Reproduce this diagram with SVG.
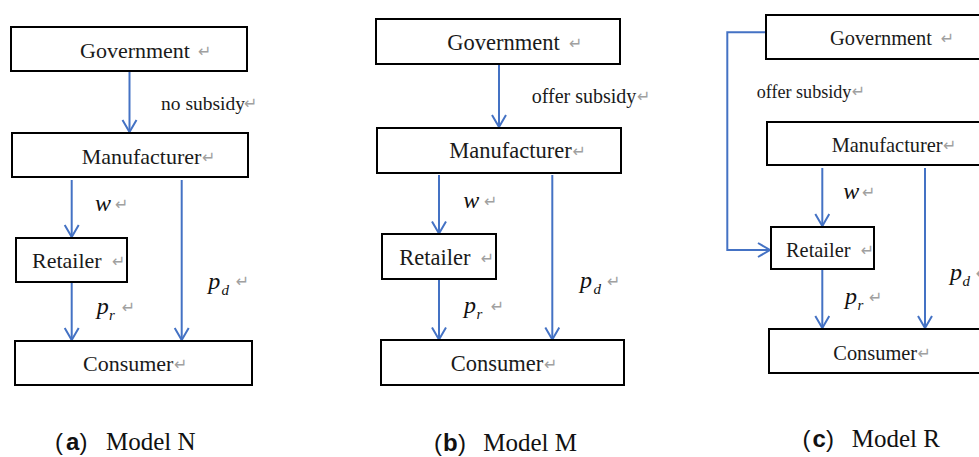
<svg xmlns="http://www.w3.org/2000/svg" width="979" height="457" viewBox="0 0 979 457">
<style>
.box{fill:#fff;stroke:#000;stroke-width:2}
.lbl{font-family:"Liberation Serif",serif;fill:#1a1a1a}
.ret{font-family:"DejaVu Sans",sans-serif;font-size:16px;fill:#a0a0a0}
.m{font-family:"Liberation Serif",serif;font-style:italic;font-size:24px;fill:#111}
.sub{font-family:"Liberation Serif",serif;font-style:italic;font-size:15px;fill:#111}
.cap{font-family:"Liberation Serif",serif;font-size:25px;fill:#111}
.par{font-family:"Liberation Sans",sans-serif;font-size:24px;fill:#111}
.capb{font-family:"Liberation Sans",sans-serif;font-weight:bold;font-size:24px;fill:#111}
.conn{fill:none;stroke:#4472C4;stroke-width:2;marker-end:url(#arr)}
</style>
<defs>
<marker id="arr" markerWidth="16" markerHeight="18" refX="13" refY="8" orient="auto" markerUnits="userSpaceOnUse">
<path d="M1,1 L13,8 L1,15" fill="none" stroke="#4472C4" stroke-width="2"/>
</marker>
</defs>
<rect width="979" height="457" fill="#fff"/>

<g id="connectors">
<line class="conn" x1="129.5" y1="71" x2="129.5" y2="132"/>
<line class="conn" x1="71.7" y1="180" x2="71.7" y2="237"/>
<line class="conn" x1="71.7" y1="282" x2="71.7" y2="340"/>
<line class="conn" x1="181.7" y1="180" x2="181.7" y2="340"/>
<line class="conn" x1="499" y1="64" x2="499" y2="127"/>
<line class="conn" x1="439" y1="175" x2="439" y2="233.5"/>
<line class="conn" x1="439" y1="279.5" x2="439" y2="339.5"/>
<line class="conn" x1="552.3" y1="175" x2="552.3" y2="339.5"/>
<polyline class="conn" points="766,32.3 727.3,32.3 727.3,250 770,250"/>
<line class="conn" x1="822.3" y1="168" x2="822.3" y2="226"/>
<line class="conn" x1="822.3" y1="269.5" x2="822.3" y2="328"/>
<line class="conn" x1="925" y1="168" x2="925" y2="328"/>
</g>

<!-- Panel (a) -->
<g id="a-government"><rect class="box" x="11" y="27" width="236" height="44"/><text class="lbl" x="80" y="58" font-size="22">Government</text><text class="ret" x="198" y="57">↵</text></g>
<g id="a-manufacturer"><rect class="box" x="12" y="133" width="236" height="44"/><text class="lbl" x="81.7" y="164" font-size="22">Manufacturer</text><text class="ret" x="202" y="163">↵</text></g>
<g id="a-retailer"><rect class="box" x="16" y="238" width="111" height="44"/><text class="lbl" x="32" y="268" font-size="22">Retailer</text><text class="ret" x="112" y="267">↵</text></g>
<g id="a-consumer"><rect class="box" x="15" y="341" width="237" height="44"/><text class="lbl" x="83" y="371" font-size="22">Consumer</text><text class="ret" x="174" y="370">↵</text></g>
<g id="a-labels">
<text class="lbl" x="161" y="110" font-size="19.5">no subsidy</text><text class="ret" x="244" y="109">↵</text>
<text class="m" x="95" y="211">w</text><text class="ret" x="115" y="210">↵</text>
<text class="m" x="96.7" y="314">p</text><text class="sub" x="109" y="320">r</text><text class="ret" x="121.7" y="313">↵</text>
<text class="m" x="208.3" y="288.5">p</text><text class="sub" x="221.5" y="294.5">d</text><text class="ret" x="235.7" y="287">↵</text>
<text class="par" x="55" y="450">(</text><text class="capb" x="66" y="450">a</text><text class="par" x="79.5" y="450">)</text>
<text class="cap" x="106" y="450">Model N</text>
</g>

<!-- Panel (b) -->
<g id="b-government"><rect class="box" x="376" y="19" width="244" height="45"/><text class="lbl" x="447.3" y="50" font-size="22.5">Government</text><text class="ret" x="569" y="49">↵</text></g>
<g id="b-manufacturer"><rect class="box" x="377" y="128" width="244" height="45"/><text class="lbl" x="449.3" y="158.3" font-size="22.5">Manufacturer</text><text class="ret" x="572.5" y="157">↵</text></g>
<g id="b-retailer"><rect class="box" x="382" y="234" width="114" height="45"/><text class="lbl" x="399.3" y="265" font-size="22.5">Retailer</text><text class="ret" x="480.7" y="264">↵</text></g>
<g id="b-consumer"><rect class="box" x="381" y="340" width="243" height="45"/><text class="lbl" x="450.7" y="371" font-size="22.5">Consumer</text><text class="ret" x="544" y="370">↵</text></g>
<g id="b-labels">
<text class="lbl" x="531.7" y="103.3" font-size="20">offer subsidy</text><text class="ret" x="637" y="102">↵</text>
<text class="m" x="463.3" y="208.3">w</text><text class="ret" x="484" y="207">↵</text>
<text class="m" x="464" y="313">p</text><text class="sub" x="476.5" y="319">r</text><text class="ret" x="490.7" y="312">↵</text>
<text class="m" x="580" y="288">p</text><text class="sub" x="593.5" y="294">d</text><text class="ret" x="607" y="287">↵</text>
<text class="par" x="434" y="451">(</text><text class="capb" x="443" y="451">b</text><text class="par" x="458" y="451">)</text>
<text class="cap" x="483.3" y="451">Model M</text>
</g>

<!-- Panel (c) -->
<g id="c-government"><rect class="box" x="766" y="15" width="240" height="44"/><text class="lbl" x="830" y="45" font-size="20.4">Government</text><text class="ret" x="940.7" y="44">↵</text></g>
<g id="c-manufacturer"><rect class="box" x="767" y="122" width="240" height="43"/><text class="lbl" x="831.7" y="151.7" font-size="20.4">Manufacturer</text><text class="ret" x="943" y="150.7">↵</text></g>
<g id="c-retailer"><rect class="box" x="771" y="227" width="103" height="42"/><text class="lbl" x="786" y="256.7" font-size="20.4">Retailer</text><text class="ret" x="860.7" y="255.7">↵</text></g>
<g id="c-consumer"><rect class="box" x="769" y="329" width="240" height="44"/><text class="lbl" x="833.3" y="360" font-size="20.4">Consumer</text><text class="ret" x="917.5" y="359">↵</text></g>
<g id="c-labels">
<text class="lbl" x="756.7" y="98" font-size="18.1">offer subsidy</text><text class="ret" x="851.7" y="97">↵</text>
<text class="m" x="843.3" y="199">w</text><text class="ret" x="862" y="198">↵</text>
<text class="m" x="845" y="304">p</text><text class="sub" x="857.5" y="310">r</text><text class="ret" x="869" y="303">↵</text>
<text class="m" x="950" y="280">p</text><text class="sub" x="962.5" y="286">d</text><text class="ret" x="975.7" y="279">↵</text>
<text class="par" x="802.5" y="446.7">(</text><text class="capb" x="812.5" y="446.7">c</text><text class="par" x="826" y="446.7">)</text>
<text class="cap" x="851.7" y="446.7">Model R</text>
</g>
</svg>
